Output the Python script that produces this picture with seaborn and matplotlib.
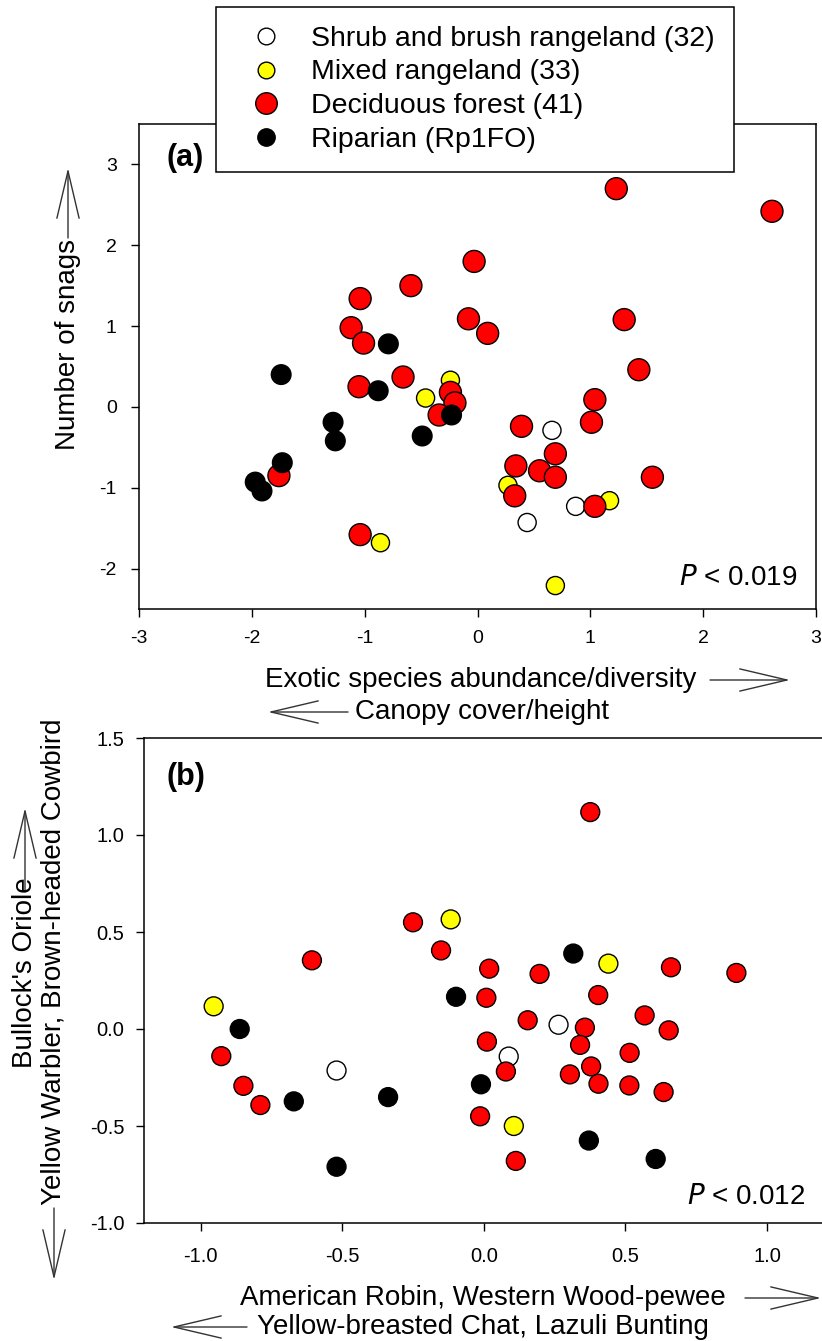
import numpy as np
import pandas as pd
import matplotlib
matplotlib.use("Agg")
import matplotlib.pyplot as plt
import seaborn as sns
from matplotlib.lines import Line2D
from matplotlib.patches import FancyArrowPatch

sns.set_style("ticks")
plt.rcParams['font.family'] = ['Liberation Sans', 'DejaVu Sans']
plt.rcParams['axes.unicode_minus'] = False
plt.rcParams['text.color'] = 'black'
plt.rcParams['axes.labelcolor'] = 'black'
plt.rcParams['xtick.color'] = 'black'
plt.rcParams['ytick.color'] = 'black'

# ---------------- data ----------------
habitats = ["Shrub and brush rangeland (32)", "Mixed rangeland (33)",
            "Deciduous forest (41)", "Riparian (Rp1FO)"]
colors = ["white", "yellow", "red", "black"]

# Panel (a)
a_white_x = [0.66, 0.87, 0.44]
a_white_y = [-0.29, -1.23, -1.43]
a_yellow_x = [-0.24, -0.46, -0.86, 0.27, 1.17, 0.69]
a_yellow_y = [0.33, 0.11, -1.68, -0.97, -1.16, -2.21]
a_red_x = [-0.03, -0.59, -1.04, -1.12, -1.01, -0.08, 0.09, -0.66, -1.05, -0.24,
           -0.20, -0.34, -1.76, -1.04, 1.23, 2.61, 1.30, 1.43, 1.04, 1.01,
           0.39, 0.69, 0.34, 0.55, 0.69, 1.55, 0.33, 1.04]
a_red_y = [1.80, 1.50, 1.34, 0.98, 0.79, 1.09, 0.91, 0.37, 0.25, 0.18,
           0.05, -0.10, -0.85, -1.58, 2.70, 2.42, 1.08, 0.46, 0.09, -0.19,
           -0.24, -0.58, -0.73, -0.79, -0.87, -0.87, -1.10, -1.23]
a_black_x = [-0.79, -1.74, -0.88, -0.23, -1.28, -1.26, -0.49, -1.73, -1.97, -1.91]
a_black_y = [0.78, 0.40, 0.20, -0.10, -0.19, -0.42, -0.36, -0.69, -0.93, -1.04]

# Panel (b)
b_white_x = [-0.52, 0.264, 0.088]
b_white_y = [-0.214, 0.022, -0.142]
b_yellow_x = [-0.954, -0.117, 0.44, 0.106]
b_yellow_y = [0.117, 0.565, 0.337, -0.50]
b_red_x = [-0.25, 0.376, -0.607, -0.151, -0.927, -0.849, -0.789, 0.113, 0.661, 0.892,
           0.019, 0.197, 0.009, 0.404, 0.155, 0.357, 0.568, 0.653, 0.011, 0.34,
           0.515, 0.078, 0.379, 0.304, 0.405, 0.514, 0.635, -0.013]
b_red_y = [0.55, 1.118, 0.354, 0.405, -0.14, -0.293, -0.392, -0.68, 0.318, 0.289,
           0.311, 0.284, 0.161, 0.175, 0.045, 0.007, 0.07, -0.007, -0.065, -0.082,
           -0.123, -0.219, -0.193, -0.234, -0.282, -0.291, -0.325, -0.45]
b_black_x = [-0.862, -0.671, -0.338, -0.52, -0.098, 0.316, -0.01, 0.371, 0.607]
b_black_y = [0.0, -0.373, -0.351, -0.71, 0.166, 0.389, -0.285, -0.575, -0.67]


def frame(groups):
    rows = []
    for hab, (xs, ys) in zip(habitats, groups):
        rows.append(pd.DataFrame({"x": xs, "y": ys, "habitat": hab}))
    return pd.concat(rows, ignore_index=True)


df_a = frame([(a_white_x, a_white_y), (a_yellow_x, a_yellow_y),
              (a_red_x, a_red_y), (a_black_x, a_black_y)])
df_b = frame([(b_white_x, b_white_y), (b_yellow_x, b_yellow_y),
              (b_red_x, b_red_y), (b_black_x, b_black_y)])

palette = dict(zip(habitats, colors))
sizes_a = dict(zip(habitats, [170, 170, 250, 200]))
sizes_b = dict(zip(habitats, [185, 185, 185, 185]))

W, H = 822, 1341
fig = plt.figure(figsize=(W / 100, H / 100), dpi=100)


def fx(px):
    return px / W


def fy(py):
    return 1 - py / H


ax_a = fig.add_axes([fx(139), fy(609), fx(816) - fx(139), (609 - 124) / H])
ax_b = fig.add_axes([fx(144), fy(1223), (823.6 - 144) / W, (1223 - 738) / H])

for ax, df, sz in [(ax_a, df_a, sizes_a), (ax_b, df_b, sizes_b)]:
    sns.scatterplot(data=df, x="x", y="y", hue="habitat", size="habitat",
                    palette=palette, sizes=sz, hue_order=habitats,
                    size_order=habitats, edgecolor="black", linewidth=1.0,
                    legend=False, ax=ax, zorder=3)
    ax.set_xlabel("")
    ax.set_ylabel("")
    for s in ax.spines.values():
        s.set_linewidth(1.1)
        s.set_color("black")
    ax.tick_params(direction="out", length=6, width=1.0, labelsize=14,
                   colors="black")

ax_a.set_xlim(-3, 3)
ax_a.set_ylim(-2.5, 3.5)
ax_a.set_xticks([-3, -2, -1, 0, 1, 2, 3])
ax_a.set_yticks([-2, -1, 0, 1, 2, 3])
ax_a.tick_params(axis="x", pad=9)
ax_a.tick_params(axis="y", pad=10)

ax_b.set_xlim(-1.2, 1.2)
ax_b.set_ylim(-1.0, 1.5)
ax_b.set_xticks([-1.0, -0.5, 0.0, 0.5, 1.0])
ax_b.set_yticks([-1.0, -0.5, 0.0, 0.5, 1.0, 1.5])
ax_b.xaxis.set_major_formatter(matplotlib.ticker.FormatStrFormatter("%.1f"))
ax_b.yaxis.set_major_formatter(matplotlib.ticker.FormatStrFormatter("%.1f"))
ax_b.tick_params(axis="x", pad=11, labelsize=14.5)
ax_b.tick_params(axis="y", pad=8, labelsize=14.5)

# panel letters and P values
ax_a.text(0.04, 0.93, "(a)", transform=ax_a.transAxes, fontsize=22,
          fontweight="bold", va="center", ha="left")
ax_b.text(0.033, 0.92, "(b)", transform=ax_b.transAxes, fontsize=22,
          fontweight="bold", va="center", ha="left")
fig.text(fx(797), fy(578), r"$\it{P}$ < 0.019", fontsize=20, ha="right", va="center")
fig.text(fx(805), fy(1197), r"$\it{P}$ < 0.012", fontsize=20, ha="right", va="center")

LBL = 20


def arrow(x0, y0, x1, y1):
    p = FancyArrowPatch((fx(x0), fy(y0)), (fx(x1), fy(y1)),
                        transform=fig.transFigure,
                        arrowstyle="->,head_length=1.7,head_width=0.4",
                        mutation_scale=20, lw=1.0, color="#333333",
                        shrinkA=0, shrinkB=0)
    fig.add_artist(p)


# Panel (a) axis labels
fig.text(fx(68), fy(344), "Number of snags", rotation=90, fontsize=LBL,
         ha="center", va="center")
arrow(68, 238, 68, 168)
fig.text(fx(265), fy(680), "Exotic species abundance/diversity", fontsize=LBL,
         ha="left", va="center")
arrow(710, 680, 790, 680)
fig.text(fx(355), fy(712), "Canopy cover/height", fontsize=LBL,
         ha="left", va="center")
arrow(348, 712, 268, 712)

# Panel (b) axis labels
fig.text(fx(240), fy(1298), "American Robin, Western Wood-pewee", fontsize=LBL,
         ha="left", va="center")
arrow(745, 1298, 821, 1298)
fig.text(fx(257), fy(1327), "Yellow-breasted Chat, Lazuli Bunting", fontsize=LBL,
         ha="left", va="center")
arrow(247, 1327, 171, 1327)
fig.text(fx(25), fy(1068), "Bullock's Oriole", rotation=90, fontsize=LBL,
         ha="center", va="bottom")
arrow(25, 892, 25, 808)
fig.text(fx(54), fy(1205), "Yellow Warbler, Brown-headed Cowbird", rotation=90,
         fontsize=LBL, ha="center", va="bottom")
arrow(54, 1208, 54, 1280)

# legend
handles = []
leg_sizes = [12, 12, 15.5, 12.5]
for hab, col, ms in zip(habitats, colors, leg_sizes):
    handles.append(Line2D([], [], linestyle="none", marker="o", markersize=ms,
                          markerfacecolor=col, markeredgecolor="black",
                          markeredgewidth=1.0))
leg = fig.legend(handles, habitats, loc="upper left",
                 bbox_to_anchor=(fx(216), fy(7)), fontsize=20.5,
                 frameon=True, fancybox=False, edgecolor="black",
                 framealpha=1, borderpad=0.65, labelspacing=0.28,
                 handletextpad=0.5, borderaxespad=0, handlelength=2.2)
leg.get_frame().set_linewidth(1.1)

fig.savefig("out.png", dpi=100)
